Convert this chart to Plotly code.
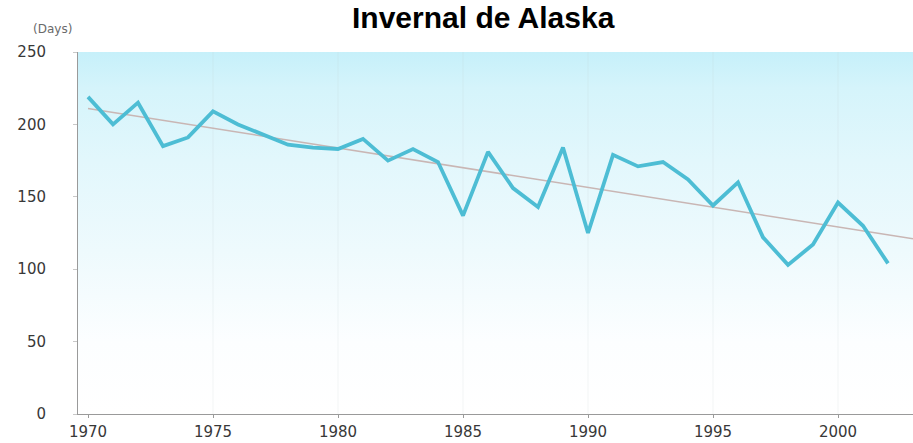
import plotly.graph_objects as go

# Length of the Alaskan winter season, in days, per year
years = list(range(1970, 2003))
days = [219, 200, 215, 185, 191, 209, 200, 193, 186, 184, 183,
        190, 175, 183, 174, 137, 181, 156, 143, 184, 125, 179,
        171, 174, 162, 144, 160, 122, 103, 117, 146, 130, 104]

# Linear trend, end points
trend_years = [1970, 2003]
trend_days = [211, 121]

x_ticks = [1970, 1975, 1980, 1985, 1990, 1995, 2000]
y_ticks = [0, 50, 100, 150, 200, 250]

X_RANGE = [1969.6, 2003.0]
Y_RANGE = [0, 250]

TICK_FONT = dict(family="DejaVu Sans, Verdana, sans-serif", size=15, color="#383838")
AXIS_GREY = "#9a9a9a"

fig = go.Figure()

# Sky-like vertical gradient behind the series
fig.add_trace(go.Scatter(
    x=X_RANGE, y=[Y_RANGE[1], Y_RANGE[1]],
    mode="none", fill="tozeroy",
    fillgradient=dict(
        type="vertical",
        colorscale=[[0.0, "#ffffff"], [0.2, "#fcfeff"], [0.45, "#eefafd"],
                    [0.7, "#e2f7fc"], [0.9, "#d5f4fb"], [1.0, "#c6f0fa"]],
    ),
    hoverinfo="skip", showlegend=False,
))

# Faint vertical guides at the year ticks
gx, gy = [], []
for t in x_ticks[1:]:
    gx += [t, t, None]
    gy += [Y_RANGE[0], Y_RANGE[1], None]
fig.add_trace(go.Scatter(
    x=gx, y=gy, mode="lines",
    line=dict(color="rgba(190,198,202,0.18)", width=1),
    hoverinfo="skip", showlegend=False,
))

# Trend line
fig.add_trace(go.Scatter(
    x=trend_years, y=trend_days, mode="lines",
    line=dict(color="#c9b6b4", width=1.6),
    hoverinfo="skip", showlegend=False,
))

# Observed season length
fig.add_trace(go.Scatter(
    x=years, y=days, mode="lines",
    line=dict(color="#4dbdd4", width=3.8),
    showlegend=False,
))

fig.update_layout(
    width=913, height=443,
    margin=dict(l=78, r=0, t=52, b=29),
    paper_bgcolor="white", plot_bgcolor="white",
    showlegend=False,
    xaxis=dict(
        range=X_RANGE, tickvals=x_ticks, ticktext=[str(t) for t in x_ticks],
        showgrid=False, zeroline=False, automargin=False,
        showline=True, linecolor=AXIS_GREY, linewidth=1,
        ticks="outside", ticklen=3, tickcolor=AXIS_GREY,
        ticklabelstandoff=1,
        tickfont=TICK_FONT,
    ),
    yaxis=dict(
        range=Y_RANGE, tickvals=y_ticks, ticktext=[str(t) for t in y_ticks],
        showgrid=False, zeroline=False, automargin=False,
        showline=True, linecolor=AXIS_GREY, linewidth=1,
        ticks="outside", ticklen=4, tickcolor="#c8c8c8",
        ticklabelstandoff=24,
        tickfont=TICK_FONT,
    ),
    annotations=[
        dict(text="Invernal de Alaska", xref="paper", yref="paper",
             x=0.486, y=1.045, xanchor="center", yanchor="bottom",
             showarrow=False,
             font=dict(family="Liberation Sans, Arial, sans-serif", size=30,
                       color="#000000", weight="bold")),
        dict(text="(Days)", xref="paper", yref="paper",
             x=-0.03, y=1.064, xanchor="center", yanchor="middle",
             showarrow=False,
             font=dict(family="DejaVu Sans, Verdana, sans-serif", size=12,
                       color="#6a6a6a")),
    ],
)

fig.write_html("out.html")
